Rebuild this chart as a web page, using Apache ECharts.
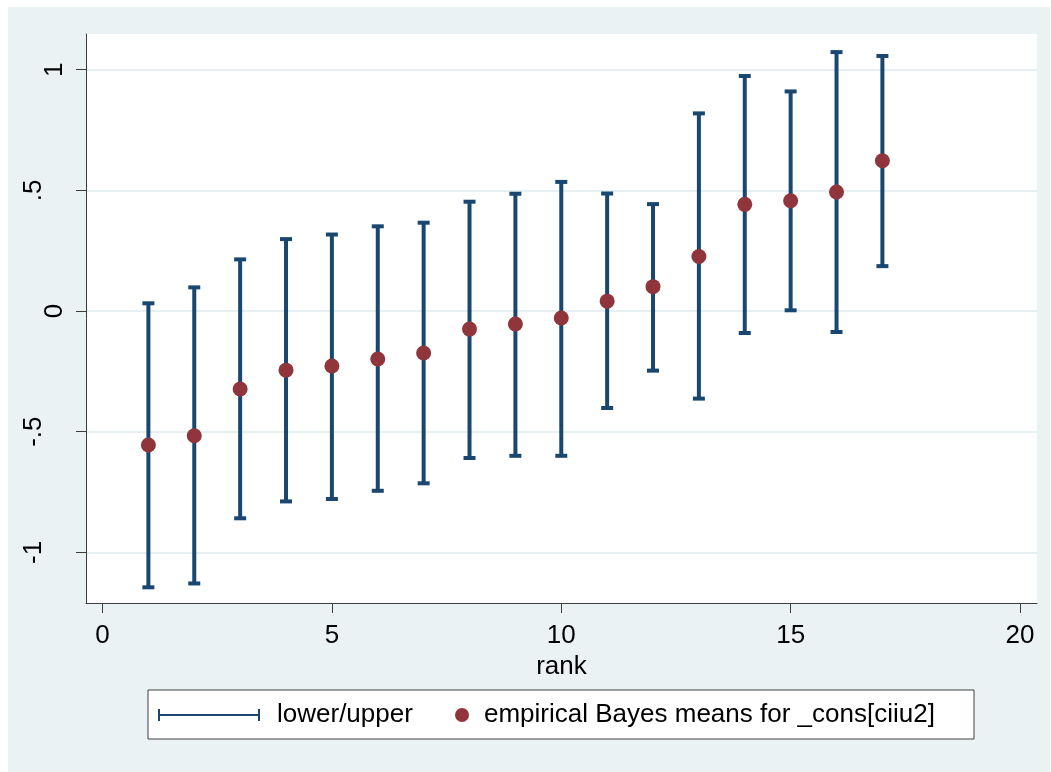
<!DOCTYPE html>
<html>
<head>
<meta charset="utf-8">
<script src="https://cdn.jsdelivr.net/npm/echarts@6/dist/echarts.min.js"></script>
<style>
  html, body { margin: 0; padding: 0; background: #ffffff; }
  #chart { width: 1051px; height: 772px; }
</style>
</head>
<body>
<div id="chart"></div>
<script>
// ---- data ----
const ranks = [1, 2, 3, 4, 5, 6, 7, 8, 9, 10, 11, 12, 13, 14, 15, 16, 17];
const ebMeans = [-0.555, -0.517, -0.323, -0.245, -0.228, -0.199, -0.174, -0.075, -0.054, -0.029, 0.041, 0.101, 0.226, 0.442, 0.457, 0.493, 0.623];
const lowerCI = [-1.145, -1.129, -0.859, -0.789, -0.779, -0.745, -0.714, -0.609, -0.600, -0.600, -0.402, -0.247, -0.363, -0.091, 0.003, -0.087, 0.186];
const upperCI = [0.032, 0.098, 0.214, 0.298, 0.317, 0.351, 0.366, 0.453, 0.486, 0.535, 0.487, 0.443, 0.819, 0.974, 0.910, 1.073, 1.057];
const xTickValues = [0, 5, 10, 15, 20];
const yTickValues = [-1, -0.5, 0, 0.5, 1];
const yTickLabels = ['-1', '-.5', '0', '.5', '1'];
const seriesNames = ['lower/upper', 'empirical Bayes means for _cons[ciiu2]'];
const xTitle = 'rank';

const FONT = '"Liberation Sans", Arial, sans-serif';
const NAVY = '#1a476f';
const MAROON = '#90353b';
const AXIS = '#3c3c3c';

const errData = ranks.map((r, i) => [r, lowerCI[i], upperCI[i]]);
const meanData = ranks.map((r, i) => [r, ebMeans[i]]);

const chart = echarts.init(document.getElementById('chart'), null, { renderer: 'canvas' });

const option = {
  backgroundColor: '#ffffff',
  animation: false,
  textStyle: { fontFamily: FONT },
  graphic: [
    { type: 'rect', z: -10, silent: true, shape: { x: 8, y: 7, width: 1042, height: 765 }, style: { fill: '#eaf2f3' } },
    { type: 'rect', z: 1, silent: true, shape: { x: 148, y: 690, width: 826, height: 49 }, style: { fill: '#ffffff', stroke: '#404040', lineWidth: 1 } }
  ],
  grid: {
    left: 86, top: 34, right: 14, bottom: 169,
    show: true, backgroundColor: '#ffffff', borderWidth: 0
  },
  xAxis: {
    type: 'value', min: -0.36, max: 20.37,
    name: xTitle, nameLocation: 'middle', nameGap: 48,
    nameTextStyle: { fontSize: 26, color: '#000', fontFamily: FONT, verticalAlign: 'top' },
    axisLine: { show: true, onZero: false, lineStyle: { color: AXIS, width: 1 } },
    axisTick: { show: true, length: 10, lineStyle: { color: AXIS, width: 1 }, customValues: xTickValues },
    axisLabel: { fontSize: 26, color: '#000', fontFamily: FONT, margin: 20, customValues: xTickValues, formatter: v => String(v) },
    splitLine: { show: false }
  },
  yAxis: {
    type: 'value', min: -1.21, max: 1.148,
    axisLine: { show: true, onZero: false, lineStyle: { color: AXIS, width: 1 } },
    axisTick: { show: true, length: 10, lineStyle: { color: AXIS, width: 1 }, customValues: yTickValues },
    axisLabel: {
      rotate: 90, fontSize: 26, color: '#000', fontFamily: FONT, margin: 18,
      customValues: yTickValues,
      formatter: v => {
        const idx = yTickValues.findIndex(t => Math.abs(t - v) < 1e-9);
        const s = idx >= 0 ? yTickLabels[idx] : String(v);
        return s.length === 1 ? '{a|' + s + '}' : '{b|' + s + '}';
      },
      rich: {
        a: { fontSize: 26, fontFamily: FONT, color: '#000', padding: [0, 0, 0, 0] },
        b: { fontSize: 26, fontFamily: FONT, color: '#000', padding: [0, 0, 21, 0] }
      }
    },
    splitLine: { show: true, lineStyle: { color: '#e6eff2', width: 2 } }
  },
  legend: [
    {
      data: [{ name: seriesNames[0], icon: 'path://M0,0h2v5h98v-5h2v12h-2v-5h-98v5h-2z' }],
      left: 158, top: 702, padding: 0, itemWidth: 102, itemHeight: 12,
      textStyle: { fontSize: 26, color: '#000', fontFamily: FONT, padding: [0, 0, 0, 12] },
      selectedMode: false, z: 5
    },
    {
      data: [{ name: seriesNames[1], icon: 'circle' }],
      left: 455, top: 702, padding: 0, itemWidth: 14, itemHeight: 14,
      textStyle: { fontSize: 26, color: '#000', fontFamily: FONT, padding: [0, 0, 0, 10] },
      selectedMode: false, z: 5
    }
  ],
  series: [
    {
      name: seriesNames[0],
      type: 'custom',
      data: errData,
      itemStyle: { color: NAVY },
      encode: { x: 0, y: [1, 2] },
      z: 2,
      renderItem: function (params, api) {
        const x = api.value(0);
        const lo = api.coord([x, api.value(1)]);
        const hi = api.coord([x, api.value(2)]);
        const half = 6;
        const st = { stroke: NAVY, lineWidth: 4, fill: null };
        return {
          type: 'group',
          children: [
            { type: 'line', shape: { x1: lo[0], y1: lo[1], x2: hi[0], y2: hi[1] }, style: st },
            { type: 'line', shape: { x1: lo[0] - half, y1: lo[1], x2: lo[0] + half, y2: lo[1] }, style: st },
            { type: 'line', shape: { x1: hi[0] - half, y1: hi[1], x2: hi[0] + half, y2: hi[1] }, style: st }
          ]
        };
      }
    },
    {
      name: seriesNames[1],
      type: 'scatter',
      data: meanData,
      symbol: 'circle',
      symbolSize: 15,
      itemStyle: { color: MAROON, opacity: 1 },
      z: 3
    }
  ]
};

chart.setOption(option);
</script>
</body>
</html>
